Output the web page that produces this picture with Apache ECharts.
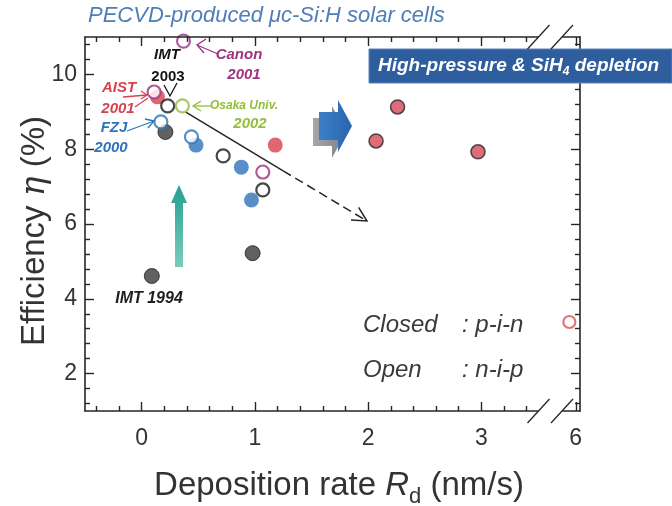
<!DOCTYPE html>
<html>
<head>
<meta charset="utf-8">
<script src="https://cdn.jsdelivr.net/npm/echarts@6.0.0/dist/echarts.min.js"></script>
<style>
  html, body { margin: 0; padding: 0; background: #ffffff; }
  #chart { width: 672px; height: 506px; }
</style>
</head>
<body>
<div id="chart"></div>
<script>
// ---- data (deposition rate in nm/s, efficiency in %) ----
const imtFilled          = [[0.09, 4.61], [0.21, 8.46], [0.98, 5.22]];
const imtOpen            = [[0.23, 9.16], [0.72, 7.82], [1.07, 6.91]];
const aistFilled         = [[0.14, 9.40], [1.18, 8.11]];
const fzjFilled          = [[0.48, 8.11], [0.88, 7.52], [0.97, 6.64]];
const fzjOpen            = [[0.17, 8.73], [0.44, 8.33]];
const canonOpen          = [[0.37, 10.89], [0.11, 9.53], [1.07, 7.39]];
const osakaOpen          = [[0.36, 9.16]];
const highPressureFilled = [[2.26, 9.13], [2.07, 8.22], [2.97, 7.93]];
const highPressureOpen   = [[5.94, 3.38]];
// trend guide: solid part, then dashed continuation to the arrow tip
const trendLine          = [[0.39, 8.99], [1.25, 7.42], [1.99, 6.08]];

// ---- axes: ranges and tick labels ----
const xRange      = [-0.5, 3.5];   // main segment of the broken axis
const xRangeFar   = [5.88, 6.04];  // segment after the break
const yRange      = [1, 11];
const xMajorTicks = [0, 1, 2, 3];
const xFarTicks   = [6];
const yMajorTicks = [2, 4, 6, 8, 10];
const xMinorStep  = 0.2;
const yMinorStep  = 0.4;

function minorTicks(range, step, majors) {
  const out = [];
  const k0 = Math.ceil(range[0] / step - 1e-9);
  const k1 = Math.floor(range[1] / step + 1e-9);
  for (let k = k0; k <= k1; k++) {
    const v = Math.round(k * step * 1e6) / 1e6;
    if (v <= range[0] || v >= range[1]) continue;
    if (majors.some(m => Math.abs(m - v) < 1e-6)) continue;
    out.push(v);
  }
  return out;
}
const xMinorTicks = minorTicks(xRange, xMinorStep, xMajorTicks);
const yMinorTicks = minorTicks(yRange, yMinorStep, yMajorTicks);

// ---- look ----
const FONT = '"Liberation Sans", Arial, Helvetica, sans-serif';
const INK = '#262626';
const LABEL = '#333333';
const C = {
  black: '#3a3a3a', blackEdge: '#1e1e1e', blue: '#2f73b9', red: '#d8414f',
  purple: '#9e347f', green: '#93bd3b', hp: '#d64757', hpOpen: '#d9534f'
};

const G0 = { left: 85, top: 37, width: 453, height: 374 };
const G1 = { left: 563, top: 37, width: 17, height: 374 };

function valueAxis(o) {
  const len = o.minor ? 5 : 9;
  const ax = {
    type: 'value', gridIndex: o.grid, position: o.position,
    min: o.range[0], max: o.range[1],
    axisLine: { show: !!o.line, onZero: false, lineStyle: { color: INK, width: 1.6 } },
    axisTick: { show: true, inside: true, length: len, customValues: o.ticks,
                lineStyle: { color: INK, width: 1.4 } },
    axisLabel: { show: false },
    splitLine: { show: false },
    minorTick: { show: false },
    z: 5
  };
  if (o.labels) {
    ax.axisLabel = { show: true, customValues: o.labels, margin: o.margin,
                     fontSize: 23, color: LABEL, fontFamily: FONT,
                     formatter: v => String(v) };
  }
  return ax;
}

const xAxes = [
  valueAxis({ grid: 0, position: 'bottom', range: xRange, ticks: xMajorTicks, line: true, labels: xMajorTicks, margin: 16 }),
  valueAxis({ grid: 0, position: 'bottom', range: xRange, ticks: xMinorTicks, minor: true }),
  valueAxis({ grid: 0, position: 'top', range: xRange, ticks: xMajorTicks, line: true }),
  valueAxis({ grid: 0, position: 'top', range: xRange, ticks: xMinorTicks, minor: true }),
  valueAxis({ grid: 1, position: 'bottom', range: xRangeFar, ticks: xFarTicks, line: true, labels: xFarTicks, margin: 16 }),
  valueAxis({ grid: 1, position: 'top', range: xRangeFar, ticks: xFarTicks, line: true })
];
const yAxes = [
  valueAxis({ grid: 0, position: 'left', range: yRange, ticks: yMajorTicks, line: true, labels: yMajorTicks, margin: 8 }),
  valueAxis({ grid: 0, position: 'left', range: yRange, ticks: yMinorTicks, minor: true }),
  valueAxis({ grid: 1, position: 'right', range: yRange, ticks: yMajorTicks, line: true }),
  valueAxis({ grid: 1, position: 'right', range: yRange, ticks: yMinorTicks, minor: true })
];

function dots(data, style, size, xi, yi, z) {
  return { type: 'scatter', data: data, xAxisIndex: xi || 0, yAxisIndex: yi || 0,
           symbol: 'circle', symbolSize: size, itemStyle: style, z: z, silent: true };
}
const filled = (c, edge, w) => ({ color: c, borderColor: edge || c, borderWidth: w || 0 });
const open = c => ({ color: '#ffffff', borderColor: c, borderWidth: 2.2 });

const series = [
  { type: 'line', data: trendLine.slice(0, 2), xAxisIndex: 0, yAxisIndex: 0, symbol: 'none',
    lineStyle: { color: INK, width: 1.5 }, z: 1, silent: true },
  { type: 'line', data: trendLine.slice(1), xAxisIndex: 0, yAxisIndex: 0, symbol: 'none',
    lineStyle: { color: INK, width: 1.5, type: [9, 5] }, z: 1, silent: true },
  dots(imtFilled, filled(C.black, C.blackEdge, 1), 15, 0, 0, 2),
  dots(aistFilled, filled(C.red), 15, 0, 0, 2),
  dots(fzjFilled, filled(C.blue), 15, 0, 0, 2),
  dots(highPressureFilled, filled(C.hp, '#2a2a2a', 1.6), 14, 0, 0, 2),
  dots(imtOpen, open('#1a1a1a'), 13, 0, 0, 3),
  dots(fzjOpen, open(C.blue), 13, 0, 0, 3),
  dots(canonOpen, open(C.purple), 13, 0, 0, 3),
  dots(osakaOpen, open(C.green), 13, 0, 0, 3),
  dots(highPressureOpen, open(C.hpOpen), 12, 4, 2, 3)
];

// ---- decorations and text ----
function txt(x, y, text, o) {
  o = o || {};
  return { type: 'text', x: x, y: y, z: 20, rotation: o.rotation || 0,
    style: { text: text, fill: o.color || LABEL, fontSize: o.size || 15,
             fontFamily: FONT, fontWeight: o.weight || 'normal', fontStyle: o.style || 'normal',
             align: o.align || 'center', verticalAlign: 'middle', rich: o.rich } };
}
function path(points, color, w) {
  return { type: 'polyline', z: 20, shape: { points: points },
           style: { stroke: color, lineWidth: w || 1.3, fill: null } };
}
const note = (x, y, t, color, size, style) =>
  txt(x, y, t, { color: color, size: size || 15, weight: 'bold', style: style || 'italic' });

const breakMarks = [];
[538.5, 562].forEach(cx => {
  [G0.top + G0.height, G0.top].forEach(cy => {
    breakMarks.push({ type: 'line', z: 20,
      shape: { x1: cx - 11, y1: cy + 12, x2: cx + 11, y2: cy - 12 },
      style: { stroke: INK, lineWidth: 1.3 } });
  });
});

const graphics = [
  txt(88, 16, 'PECVD-produced \u03bcc-Si:H solar cells',
      { color: '#4f7db8', size: 22, style: 'italic', align: 'left' }),
  txt(35, 231, '{a|Efficiency }{i|\u03b7}{a| (%)}',
      { rotation: Math.PI / 2, rich: {
        a: { fontSize: 33, fontFamily: FONT, fill: LABEL },
        i: { fontSize: 33, fontFamily: 'DejaVu Serif, serif', fontStyle: 'italic', fill: LABEL } } }),
  txt(339, 486, '{a|Deposition rate }{i|R}{s|d}{a| (nm/s)}',
      { rich: {
        a: { fontSize: 33, fontFamily: FONT, fill: LABEL },
        i: { fontSize: 33, fontFamily: FONT, fontStyle: 'italic', fill: LABEL },
        s: { fontSize: 22, fontFamily: FONT, fill: LABEL, padding: [22, 0, 0, 0] } } }),

  // banner
  { type: 'rect', z: 18, shape: { x: 369, y: 49, width: 303, height: 34 },
    style: { fill: '#2f5e9e', stroke: '#5b84bc', lineWidth: 1 } },
  txt(378, 66, '{b|High-pressure & SiH}{s|4}{b| depletion}',
      { align: 'left', rich: {
        b: { fontSize: 19, fontFamily: FONT, fontWeight: 'bold', fontStyle: 'italic', fill: '#ffffff' },
        s: { fontSize: 12, fontFamily: FONT, fontWeight: 'bold', fontStyle: 'italic', fill: '#ffffff', padding: [12, 0, 0, 0] } } }),

  // block arrow with grey shadow
  { type: 'polygon', z: 16, shape: { points: [[313, 118], [332, 118], [332, 106], [346, 132], [332, 158], [332, 146], [313, 146]] },
    style: { fill: { type: 'linear', x: 0, y: 0, x2: 1, y2: 0,
      colorStops: [{ offset: 0, color: '#a4a8ab' }, { offset: 1, color: '#7c8084' }] } } },
  { type: 'polygon', z: 17, shape: { points: [[319, 112], [338, 112], [338, 100], [352, 126], [338, 152], [338, 140], [319, 140]] },
    style: { fill: { type: 'linear', x: 0, y: 0, x2: 1, y2: 0,
      colorStops: [{ offset: 0, color: '#3b7fc7' }, { offset: 1, color: '#2a64ad' }] } } },

  // upward teal arrow
  { type: 'polygon', z: 16, shape: { points: [[175, 267], [175, 203], [171, 203], [179, 185], [187, 203], [183, 203], [183, 267]] },
    style: { fill: { type: 'linear', x: 0, y: 0, x2: 0, y2: 1,
      colorStops: [{ offset: 0, color: '#22a08f' }, { offset: 1, color: '#7ccbbd' }] } } },

  // labels for groups
  note(167, 55, 'IMT', '#141414'),
  note(168, 77, '2003', '#141414', 15, 'normal'),
  path([[164, 85], [170, 96], [177, 83]], '#141414', 1.3),
  note(239, 55, 'Canon', C.purple),
  note(244, 75, '2001', C.purple),
  path([[218, 54], [197, 45]], C.purple, 1.3),
  path([[206, 39], [197, 45], [204, 53]], C.purple, 1.3),
  note(119, 88, 'AIST', C.red),
  note(118, 109, '2001', C.red),
  path([[123, 97], [147, 95]], C.red, 1.3),
  path([[141, 91], [147, 95], [141, 99]], C.red, 1.2),
  path([[135, 107], [148, 98]], C.red, 1.2),
  note(114, 128, 'FZJ', C.blue),
  note(111, 148, '2000', C.blue),
  path([[127, 131], [154, 121]], C.blue, 1.3),
  path([[145, 119], [154, 121], [148, 128]], C.blue, 1.3),
  note(244, 106, 'Osaka Univ.', C.green, 12),
  note(250, 124, '2002', C.green),
  path([[212, 106], [193, 106]], C.green, 1.3),
  path([[201, 101], [193, 106], [201, 111]], C.green, 1.3),
  note(149, 299, 'IMT 1994', '#1e1e1e', 16),

  // cell structure key
  txt(363, 325, 'Closed', { size: 24, style: 'italic', align: 'left', color: '#3a3a3a' }),
  txt(462, 325, ': p-i-n', { size: 24, style: 'italic', align: 'left', color: '#3a3a3a' }),
  txt(363, 370, 'Open', { size: 24, style: 'italic', align: 'left', color: '#3a3a3a' }),
  txt(462, 370, ': n-i-p', { size: 24, style: 'italic', align: 'left', color: '#3a3a3a' })
].concat(breakMarks);

const chart = echarts.init(document.getElementById('chart'), null, { renderer: 'canvas' });
chart.setOption({
  animation: false,
  backgroundColor: '#ffffff',
  grid: [
    Object.assign({ containLabel: false, outerBoundsMode: 'none' }, G0),
    Object.assign({ containLabel: false, outerBoundsMode: 'none' }, G1)
  ],
  xAxis: xAxes,
  yAxis: yAxes,
  series: series,
  graphic: graphics
});

// open arrow head at the end of the trend guide
const tip = chart.convertToPixel({ xAxisIndex: 0, yAxisIndex: 0 }, trendLine[2]);
const from = chart.convertToPixel({ xAxisIndex: 0, yAxisIndex: 0 }, trendLine[1]);
const ang = Math.atan2(tip[1] - from[1], tip[0] - from[0]);
const L = 16, spread = 0.48;
graphics.push(path([
  [tip[0] - L * Math.cos(ang - spread), tip[1] - L * Math.sin(ang - spread)],
  tip,
  [tip[0] - L * Math.cos(ang + spread), tip[1] - L * Math.sin(ang + spread)]
], INK, 1.5));
chart.setOption({ graphic: graphics });
</script>
</body>
</html>
